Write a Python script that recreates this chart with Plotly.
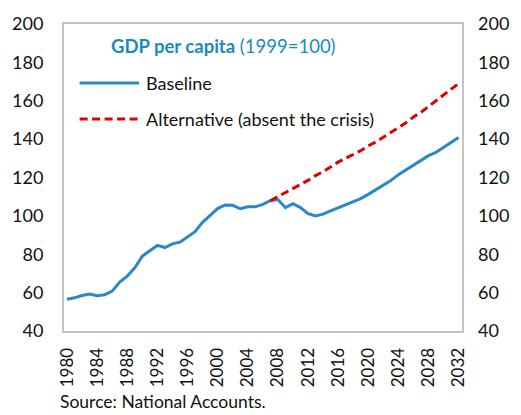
import plotly.graph_objects as go

years_base = list(range(1980, 2033))
baseline = [56.5, 57.3, 58.5, 59.3, 58.4, 58.9, 60.8, 65.5, 68.6, 72.9,
            79.0, 82.0, 84.6, 83.5, 85.4, 86.3, 88.9, 91.8, 96.6, 100.0,
            103.8, 105.7, 105.5, 103.7, 104.7, 104.7, 106.0, 107.9, 108.5, 104.3,
            106.4, 104.3, 101.2, 100.0, 100.9, 102.6, 104.2, 106.0, 107.6, 109.0,
            111.2, 113.6, 115.9, 118.4, 121.5, 124.0, 126.2, 128.8, 131.4, 133.1,
            135.7, 138.6, 140.8]
years_alt = list(range(2007, 2033))
alternative = [107.9, 110.0, 112.0, 114.5, 116.5, 118.5, 121.0, 123.0, 125.5, 128.0,
               130.0, 132.0, 134.0, 136.5, 138.5, 141.0, 143.5, 146.0, 148.5, 151.5,
               154.0, 157.0, 160.0, 163.0, 166.0, 169.0]
x_ticks = list(range(1980, 2033, 4))
y_ticks = list(range(40, 201, 20))
series_names = ["Baseline", "Alternative (absent the crisis)"]

FONT = "Lato, 'Open Sans', sans-serif"
TXT = "#111111"
BLUE = "#2a88c8"
RED = "#e00000"
TITLE_BLUE = "#1a8bbf"
DASH = "8px,4.5px"

W, H = 521, 415
L, R, T, B = 62, 51, 22, 84
PW, PH = W - L - R, H - T - B


def px(xp):
    return (xp - L) / PW


def py(yp):
    return (H - B - yp) / PH


fig = go.Figure()
fig.add_trace(go.Scatter(x=years_base, y=baseline, mode="lines", name=series_names[0],
                         showlegend=False, line=dict(color=BLUE, width=3)))
fig.add_trace(go.Scatter(x=years_alt, y=alternative, mode="lines", name=series_names[1],
                         showlegend=False, line=dict(color=RED, width=3, dash=DASH)))
# invisible trace to activate the right-hand axis
fig.add_trace(go.Scatter(x=years_base, y=baseline, mode="lines", yaxis="y2",
                         showlegend=False, hoverinfo="skip",
                         line=dict(color="rgba(0,0,0,0)", width=0)))

fig.update_layout(
    width=W, height=H,
    margin=dict(l=L, r=R, t=T, b=B),
    paper_bgcolor="white", plot_bgcolor="white",
    font=dict(family=FONT, size=18, color=TXT),
    showlegend=False,
    xaxis=dict(range=[1979.6, 2032.45], tickmode="array", tickvals=x_ticks,
               ticktext=[str(t) for t in x_ticks], tickangle=-90,
               showgrid=False, zeroline=False, showline=True, mirror=True,
               linecolor="#c4c4c4", linewidth=2, ticks="", ticklabelstandoff=8,
               tickfont=dict(size=17)),
    yaxis=dict(range=[40, 200], tickmode="array", tickvals=y_ticks,
               showgrid=False, zeroline=False, showline=True, mirror=True,
               linecolor="#c4c4c4", linewidth=2, ticks="", ticklabelstandoff=15),
    yaxis2=dict(range=[40, 200], tickmode="array", tickvals=y_ticks,
                overlaying="y", side="right", showgrid=False, zeroline=False,
                showline=False, ticks="", ticklabelstandoff=15),
)

# chart title inside the plot
fig.add_annotation(x=px(108), y=py(44), xref="paper", yref="paper", xanchor="left",
                   yanchor="middle", showarrow=False,
                   text="<b>GDP per capita</b> (1999=100)",
                   font=dict(family=FONT, size=18.5, color=TITLE_BLUE))

# legend (line samples + labels)
legend_rows = [(series_names[0], BLUE, "solid", 81.5), (series_names[1], RED, DASH, 117.5)]
for name, col, dash, yp in legend_rows:
    fig.add_shape(type="line", xref="paper", yref="paper",
                  x0=px(78), x1=px(139), y0=py(yp), y1=py(yp),
                  line=dict(color=col, width=3, dash=dash))
    fig.add_annotation(x=px(144), y=py(yp), xref="paper", yref="paper",
                       xanchor="left", yanchor="middle", showarrow=False,
                       text=name, font=dict(family=FONT, size=18, color=TXT))

# source note
fig.add_annotation(x=px(56), y=py(402), xref="paper", yref="paper", showarrow=False,
                   text="Source: National Accounts.", xanchor="left", yanchor="middle",
                   font=dict(family=FONT, size=17.5, color=TXT))

fig.write_html("out.html", config={"displayModeBar": False},
               post_script="document.body.style.margin='0';")
